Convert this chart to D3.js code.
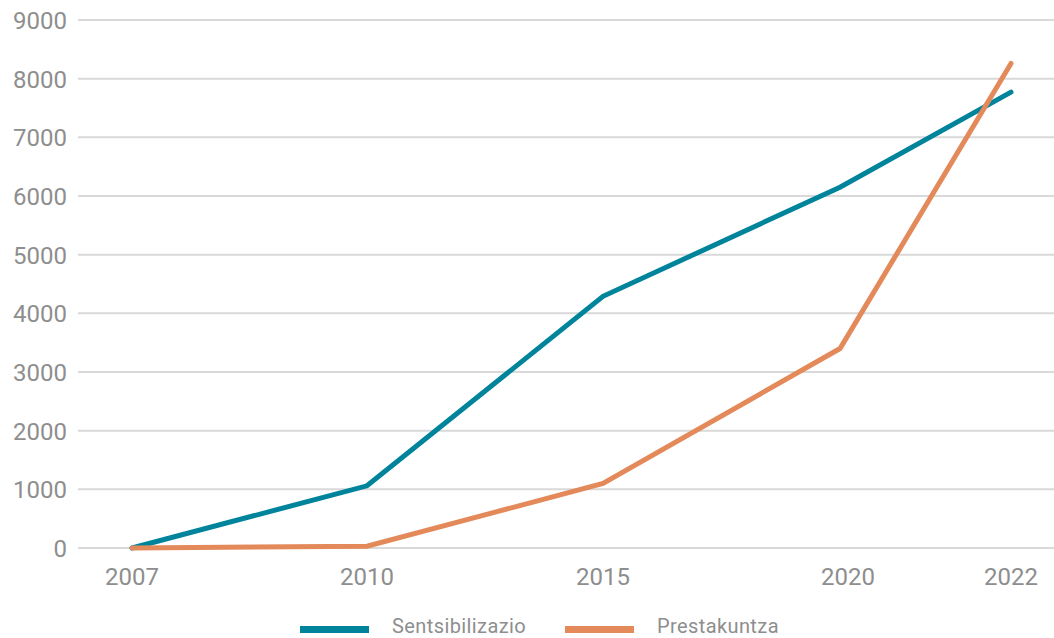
<!DOCTYPE html>
<html lang="eu">
  <head>
    <meta charset="utf-8" />
    <title>Sentsibilizazio eta Prestakuntza</title>
    <style>
      body { margin: 0; background: #fff; }
      text { font-family: Roboto, "DejaVu Sans", sans-serif; fill: #8e8e8e; }
    </style>
  </head>
  <body>
    <script src="https://d3js.org/d3.v7.min.js"></script>
    <div id="chart"></div>
    <script>
      // data
      const years = [2007, 2010, 2015, 2020, 2022];
      const sentsibilizazio = [0, 1060, 4290, 6150, 7770];
      const prestakuntza = [0, 30, 1100, 3400, 8260];
      const yTicks = [0, 1000, 2000, 3000, 4000, 5000, 6000, 7000, 8000, 9000];
      const seriesNames = ["Sentsibilizazio", "Prestakuntza"];
      const colors = ["#00849c", "#e3895a"];

      const W = 1054, H = 638;
      const margin = { top: 20, right: 0, bottom: 90, left: 78 };

      const svg = d3.select("#chart").append("svg")
        .attr("width", W).attr("height", H);

      // category spacing on the original axis is not even, last step is shorter
      const x = d3.scaleLinear()
        .domain(years)
        .range([132, 367, 603, 840, 1011]);

      const y = d3.scaleLinear()
        .domain([0, 9000])
        .range([548, margin.top]);

      // grid
      svg.append("g")
        .selectAll("line")
        .data(yTicks)
        .join("line")
        .attr("x1", margin.left)
        .attr("x2", W - margin.right)
        .attr("y1", d => y(d))
        .attr("y2", d => y(d))
        .attr("stroke", "#d9d9d9")
        .attr("stroke-width", 2);

      // y labels
      svg.append("g")
        .selectAll("text")
        .data(yTicks)
        .join("text")
        .attr("x", 67)
        .attr("y", d => y(d))
        .attr("dy", "0.38em")
        .attr("text-anchor", "end")
        .attr("font-size", 24)
        .text(d => d);

      // x labels (2020 label sits a bit right of its point in the original)
      svg.append("g")
        .selectAll("text")
        .data(years)
        .join("text")
        .attr("x", d => x(d) + (d === 2020 ? 8 : 0))
        .attr("y", 585)
        .attr("text-anchor", "middle")
        .attr("font-size", 24)
        .text(d => d);

      const line = d3.line()
        .x((d, i) => x(years[i]))
        .y(d => y(d));

      [sentsibilizazio, prestakuntza].forEach((vals, i) => {
        svg.append("path")
          .datum(vals)
          .attr("fill", "none")
          .attr("stroke", colors[i])
          .attr("stroke-width", 5)
          .attr("stroke-linecap", "round")
          .attr("stroke-linejoin", "miter")
          .attr("d", line);
      });

      // legend
      const legendX = [300, 565];
      const lg = svg.append("g");
      seriesNames.forEach((name, i) => {
        lg.append("rect")
          .attr("x", legendX[i])
          .attr("y", 626)
          .attr("width", 69)
          .attr("height", 7)
          .attr("fill", colors[i]);
        lg.append("text")
          .attr("x", legendX[i] + 92)
          .attr("y", 633)
          .attr("font-size", 20)
          .attr("letter-spacing", 0.4)
          .text(name);
      });
    </script>
  </body>
</html>
